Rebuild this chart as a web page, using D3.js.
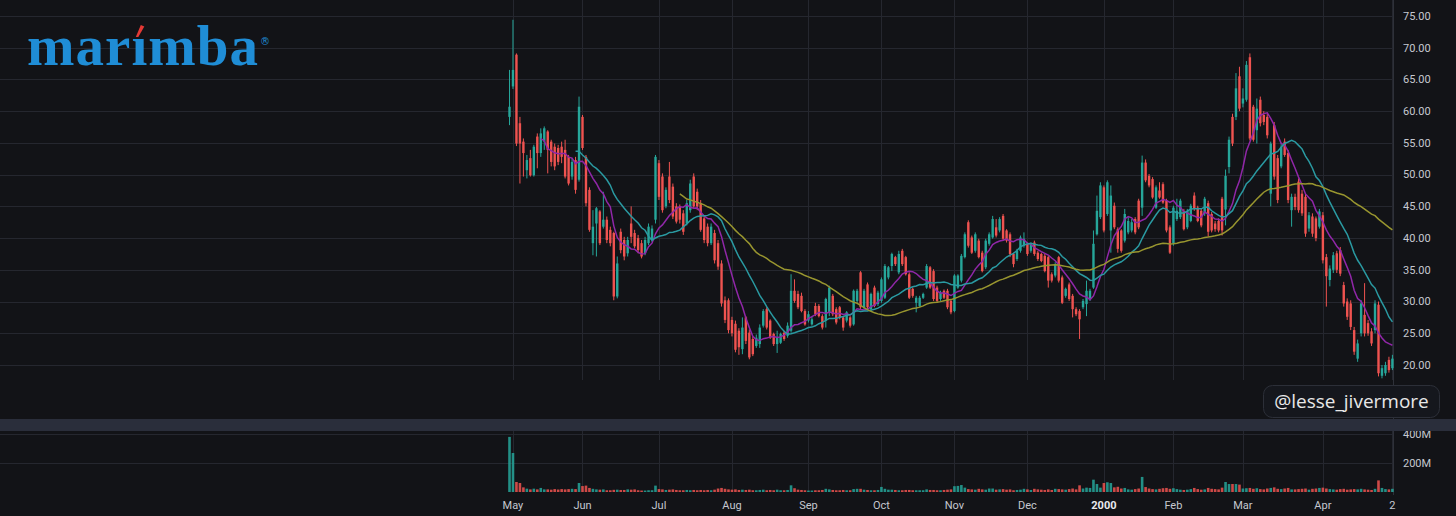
<!DOCTYPE html>
<html>
<head>
<meta charset="utf-8">
<script src="https://cdnjs.cloudflare.com/ajax/libs/d3/7.8.5/d3.min.js"></script>
<style>
	html, body { margin: 0; padding: 0; background: #121317; overflow: hidden; }
	svg { display: block; }
	.axis-label { font-family: Roboto, "Open Sans", sans-serif; font-size: 11px; fill: #c5c8d0; }
</style>
</head>
<body>
<div id="chart"></div>
<script>
// daily bars, MRBA, 30 Apr 1999 .. 2 May 2000
var opens = [
	59.1,63.9,68.9,58.1,55.2,50.7,52.6,49.9,56.0,53.4, 55.2,56.8,55.2,54.4,54.2,54.4,53.9,52.8,49.7,52.3,
	49.2,59.1,52.8,47.6,39.2,42.3,44.2,41.8,42.9,41.3, 40.8,30.8,41.0,39.7,37.6,42.3,40.8,40.0,39.2,37.6,
	39.2,39.7,42.9,51.8,49.7,45.0,49.7,48.1,45.0,45.0, 43.9,42.3,44.4,49.7,47.3,45.5,43.1,41.8,39.2,40.8,
	39.2,36.0,30.2,30.2,27.1,26.5,25.4,22.5,27.5,25.1, 24.1,23.0,23.3,26.2,28.8,27.0,24.9,23.3,23.5,25.1,
	24.6,25.4,31.7,31.2,30.9,28.5,27.0,26.4,29.3,29.3, 27.7,27.0,28.3,30.9,28.8,29.1,27.5,27.0,27.5,26.4,
	30.1,34.6,29.1,32.7,28.8,32.2,29.6,30.1,30.6,33.8, 35.6,37.0,34.6,38.0,37.0,34.3,32.0,29.8,29.3,30.6,
	32.2,35.4,34.8,32.2,30.4,31.7,31.7,30.1,28.5,32.2, 33.3,37.0,42.5,40.1,38.0,39.6,37.7,35.4,39.1,40.1,
	41.7,41.2,43.5,41.2,40.6,37.5,36.7,38.0,38.8,39.1, 38.0,39.3,37.7,37.5,37.2,37.0,34.3,34.1,37.0,33.8,
	30.9,32.7,30.9,28.8,28.5,29.1,29.6,30.4,32.2,40.6, 43.3,48.0,43.8,41.2,45.1,41.4,41.2,39.6,40.9,41.2,
	43.0,45.9,44.8,51.9,49.8,49.3,44.8,47.5,48.5,45.9, 41.7,39.1,43.0,43.3,44.3,41.7,42.7,46.7,44.8,44.3,
	43.9,45.5,43.8,42.3,42.7,46.2,44.5,51.2,59.1,59.1, 65.5,61.2,61.8,68.5,60.7,57.0,61.8,59.4,59.1,47.0,
	57.8,52.6,51.3,55.2,53.4,44.4,46.5,48.9,47.0,46.5, 41.5,43.4,43.1,41.8,43.6,37.0,33.4,35.0,37.6,38.1,
	32.6,30.0,29.7,25.5,21.0,25.0,27.9,26.6,25.3,25.5, 29.5,18.3,18.7,20.8,19.5
];
var highs = [
	66.5,74.4,69.1,59.1,55.7,53.1,53.9,54.7,56.5,57.3, 57.6,57.0,55.5,54.9,54.7,55.2,55.5,53.1,52.6,52.8,
	62.3,59.4,53.1,48.0,44.4,44.9,44.4,47.3,43.4,41.8, 41.0,37.1,41.5,40.2,40.2,45.0,41.3,40.5,39.7,40.2,
	42.3,42.0,53.1,52.3,50.2,48.0,52.0,48.6,45.5,45.3, 44.4,46.0,49.2,50.2,47.8,46.0,43.6,42.3,42.3,41.3,
	39.7,36.5,30.8,30.5,27.6,27.0,25.8,27.5,27.7,25.6, 24.5,24.8,26.4,28.8,29.1,27.2,25.1,25.4,25.1,25.4,
	26.7,34.3,33.5,31.7,31.4,28.8,28.5,27.7,29.8,29.6, 28.0,30.6,32.5,31.2,29.1,29.3,27.7,28.5,27.7,31.9,
	32.0,34.8,32.0,33.0,31.4,32.5,31.7,33.8,35.9,35.6, 37.7,37.2,38.0,38.3,37.2,34.6,32.2,30.9,30.9,31.4,
	35.9,35.6,35.1,32.5,31.7,31.9,32.0,30.4,34.3,34.3, 37.5,40.9,42.8,40.4,40.9,39.9,38.0,39.9,40.9,43.5,
	43.0,43.3,43.8,41.4,40.9,37.7,38.3,40.4,40.9,39.3, 39.3,39.6,38.0,37.7,37.5,37.2,34.6,36.2,37.2,34.1,
	32.2,33.0,31.2,29.1,28.8,30.4,33.3,32.0,41.2,46.7, 48.8,48.3,49.1,48.3,45.6,41.7,41.4,44.6,43.3,43.0,
	43.3,46.2,53.0,52.4,50.1,49.6,48.3,48.8,48.8,46.2, 42.0,45.1,46.2,46.2,44.6,44.6,45.4,47.2,45.1,44.6,
	46.5,45.9,44.1,42.7,43.1,46.5,50.8,56.0,59.6,66.0, 67.0,63.6,67.9,69.1,61.0,62.0,62.3,60.0,59.6,55.2,
	58.3,53.1,55.0,55.7,53.9,47.0,47.0,49.4,47.6,47.0, 44.1,43.9,43.4,44.6,44.1,37.5,35.7,37.8,38.0,38.6,
	33.1,30.5,30.2,26.0,24.0,30.2,32.9,27.1,25.8,30.2, 30.0,20.0,20.5,21.3,21.6
];
var lows = [
	57.8,63.5,54.5,48.6,49.7,49.4,49.7,49.7,51.0,52.8, 53.9,50.2,51.3,50.7,51.5,51.8,49.4,48.3,49.2,47.0,
	48.9,53.9,45.0,41.0,37.3,37.1,38.9,41.5,39.2,38.7, 30.2,30.5,37.6,36.5,37.1,39.2,38.4,37.6,36.8,37.3,
	38.9,39.4,42.3,46.0,44.0,44.7,45.5,43.0,42.3,42.3, 40.5,42.0,44.0,44.7,44.4,41.0,39.2,38.7,38.9,36.0,
	35.0,29.2,26.6,25.0,24.5,22.0,21.6,21.7,23.3,20.9, 21.4,22.7,22.7,25.9,25.6,24.1,23.0,21.9,23.3,23.8,
	24.3,25.1,29.8,28.8,28.3,26.2,26.7,26.2,27.7,27.5, 25.6,25.9,27.7,27.7,26.4,27.2,25.4,26.7,25.9,26.2,
	29.8,28.8,28.8,28.8,28.5,29.1,29.3,29.8,30.4,33.5, 34.8,35.6,34.3,35.6,34.1,30.4,30.6,28.3,29.1,30.4,
	32.0,32.0,30.1,29.8,30.1,30.4,28.8,28.0,28.3,32.0, 33.0,36.8,38.5,37.5,37.7,36.8,34.6,35.1,38.8,39.9,
	40.1,40.9,39.6,39.3,37.0,35.4,36.4,37.7,38.5,37.2, 37.7,37.2,36.4,36.2,34.6,32.2,33.0,33.8,33.0,29.6,
	30.6,30.1,27.5,27.7,24.1,28.8,27.7,30.1,32.0,40.4, 43.0,40.9,43.5,37.7,41.4,37.7,37.7,39.3,40.6,40.9,
	40.6,41.4,43.5,48.8,48.0,46.2,44.6,46.2,45.4,40.9, 37.5,38.8,42.7,43.0,41.2,41.4,42.5,44.3,42.5,41.7,
	43.5,40.2,40.9,41.0,40.9,40.4,42.0,50.2,54.5,58.6, 60.0,60.6,61.5,55.4,55.2,54.9,57.6,57.8,55.7,45.0,
	49.2,45.5,51.0,52.8,45.5,41.8,44.4,44.0,43.5,40.2, 41.0,40.2,39.5,41.5,36.0,29.2,32.4,34.5,34.5,34.0,
	29.2,27.1,25.5,21.6,20.5,24.5,24.5,24.6,23.0,25.0, 18.2,17.9,18.3,18.8,19.2
];
var closes = [
	60.7,66.5,54.9,54.9,53.4,52.3,49.9,54.4,53.4,56.5, 57.3,53.9,52.0,51.3,52.0,52.8,49.7,48.6,52.0,47.6,
	60.7,54.2,45.5,41.3,41.8,44.7,39.2,42.9,39.7,39.2, 30.8,36.0,38.1,37.1,39.7,40.2,38.7,38.1,37.1,39.7,
	41.8,41.5,52.8,46.5,44.4,47.6,46.0,43.4,42.6,42.9, 41.0,45.5,48.6,45.0,45.0,41.3,39.7,39.2,41.8,36.5,
	35.5,29.7,27.1,25.5,25.0,22.4,22.8,25.9,23.8,21.2, 21.7,24.3,25.9,28.5,25.9,24.3,23.3,24.3,24.9,24.1,
	26.2,31.7,30.1,29.1,28.5,26.4,28.0,27.2,28.0,27.7, 25.9,30.4,32.2,28.0,26.7,27.5,25.9,28.3,26.2,31.7,
	31.7,29.1,31.7,29.1,31.2,29.3,31.4,33.5,35.6,35.4, 37.5,35.9,37.5,35.9,34.3,30.6,30.9,30.6,30.6,31.2,
	35.6,32.2,30.4,30.1,31.4,30.6,29.1,28.3,34.1,34.1, 37.2,40.6,38.8,37.7,40.6,37.0,34.8,39.6,40.6,43.0,
	40.4,43.0,39.9,39.6,37.5,35.9,38.0,40.1,39.9,37.5, 39.1,37.5,36.7,36.4,34.8,33.3,33.3,35.9,33.3,29.8,
	32.0,30.4,28.8,28.0,27.2,30.1,31.7,31.7,39.1,44.3, 48.3,41.2,48.8,46.7,41.7,38.3,38.0,43.8,42.7,42.5,
	40.9,41.7,51.9,49.1,48.3,46.4,48.0,46.4,45.6,41.2, 37.7,44.8,44.3,45.9,41.4,44.3,45.1,44.6,42.7,42.0,
	46.2,41.0,41.2,41.4,41.2,41.2,49.8,55.5,54.9,63.6, 60.4,62.0,67.3,55.7,55.5,60.4,58.1,58.3,56.2,54.9,
	49.7,46.0,54.4,53.1,46.0,46.5,44.9,44.4,43.9,40.7, 43.6,40.7,40.0,44.2,36.5,34.0,35.2,37.3,35.0,34.4,
	29.7,27.6,26.0,22.1,23.4,29.7,25.0,25.0,23.4,29.7, 18.7,19.5,20.0,19.2,21.0
];
// volume, millions of shares
var volumes = [
	380,269,69,62,32,23,18,23,18,28, 18,18,16,20,17,20,18,20,22,20,
	62,41,44,28,22,18,16,18,12,12, 15,16,14,14,18,16,18,12,10,10,
	12,12,44,20,18,14,16,18,14,12, 12,14,12,14,12,14,12,14,12,16,
	24,28,22,18,16,18,14,16,14,16, 12,12,14,16,12,14,12,16,12,12,
	14,46,26,16,14,12,10,10,12,12, 14,22,18,14,12,12,14,12,12,20,
	22,22,16,14,12,12,14,35,22,16, 16,14,12,12,14,14,12,12,12,12,
	18,14,14,12,12,14,16,18,40,42, 48,30,20,18,16,22,18,16,24,24,
	16,18,20,16,18,12,14,16,22,18, 14,22,18,16,14,18,14,22,20,18,
	16,20,24,18,46,24,30,28,85,55, 30,62,67,62,32,36,24,28,18,16,
	20,24,104,34,24,20,18,22,26,28, 22,26,20,16,14,16,20,28,20,16,
	18,28,22,20,18,30,69,55,55,55, 51,24,26,28,22,26,20,18,24,28,
	32,22,20,24,28,18,18,20,22,24, 16,22,24,28,30,24,20,18,16,20,
	22,16,18,20,18,22,18,16,14,22, 80,28,20,18,22
];

var monthTicks = [1, 21, 43, 64, 86, 107, 128, 149, 171, 191, 211, 234, 254];
var monthLabels = ['May', 'Jun', 'Jul', 'Aug', 'Sep', 'Oct', 'Nov', 'Dec', '2000', 'Feb', 'Mar', 'Apr', '2'];
var priceTicks = [20, 25, 30, 35, 40, 45, 50, 55, 60, 65, 70, 75];
var volumeTicks = [200, 400];
var maPeriods = [10, 20, 50];
var maColors = ['#9027a8', '#2a9aa2', '#98952f'];

var width = 1456;
var height = 516;
var plotRight = 1393;
var pricePaneBottom = 419;
var volTop = 431;

var svg = d3.select('#chart').append('svg')
	.attr('width', width)
	.attr('height', height);

svg.append('rect')
	.attr('width', width)
	.attr('height', height)
	.attr('fill', '#121317');

var xScale = d3.scaleLinear()
	.domain([0, closes.length - 1])
	.range([509.5, 1392.4]);
var yScale = d3.scaleLinear()
	.domain([20, 75])
	.range([365, 16]);
var vScale = d3.scaleLinear()
	.domain([0, 400])
	.range([492, 434]);

// grid
var grid = svg.append('g').attr('stroke', '#25272f').attr('stroke-width', 1);
grid.selectAll('.hgrid')
	.data(priceTicks)
	.enter().append('line')
	.attr('x1', 0).attr('x2', plotRight)
	.attr('y1', function (d) { return Math.round(yScale(d)) + 0.5; })
	.attr('y2', function (d) { return Math.round(yScale(d)) + 0.5; });
grid.selectAll('.vgrid')
	.data(monthTicks)
	.enter().append('line')
	.attr('x1', function (d) { return Math.round(xScale(d)) + 0.5; })
	.attr('x2', function (d) { return Math.round(xScale(d)) + 0.5; })
	.attr('y1', 0).attr('y2', 380);
grid.selectAll('.vgrid2')
	.data(monthTicks)
	.enter().append('line')
	.attr('x1', function (d) { return Math.round(xScale(d)) + 0.5; })
	.attr('x2', function (d) { return Math.round(xScale(d)) + 0.5; })
	.attr('y1', volTop).attr('y2', 492);
grid.selectAll('.vhgrid')
	.data(volumeTicks)
	.enter().append('line')
	.attr('x1', 0).attr('x2', plotRight)
	.attr('y1', function (d) { return Math.round(vScale(d)) + 0.5; })
	.attr('y2', function (d) { return Math.round(vScale(d)) + 0.5; });

// right price scale border
svg.append('line')
	.attr('x1', plotRight + 0.5).attr('x2', plotRight + 0.5)
	.attr('y1', 0).attr('y2', 495)
	.attr('stroke', '#2e3139');

// logo
var logo = svg.append('text')
	.attr('x', 27)
	.attr('y', 65)
	.attr('font-family', '"Liberation Serif", "DejaVu Serif", serif')
	.attr('font-size', 57)
	.attr('font-weight', 'bold')
	.attr('fill', '#1f8dd6')
	.attr('textLength', 231)
	.attr('lengthAdjust', 'spacing')
	.text('mar\u0131mba');
var iBox = logo.node().getExtentOfChar(3);
var ax = iBox.x + iBox.width / 2;
svg.append('path')
	.attr('d', 'M' + (ax - 3.5) + ',37 L' + (ax + 1.5) + ',25 L' + (ax + 5) + ',26.5 L' + (ax - 1) + ',37 Z')
	.attr('fill', '#e53935');
svg.append('text')
	.attr('x', 260)
	.attr('y', 45)
	.attr('font-family', '"DejaVu Sans", sans-serif')
	.attr('font-size', 10)
	.attr('fill', '#1f8dd6')
	.text('\u00ae');

// volume bars
var volG = svg.append('g');
volG.selectAll('.vol')
	.data(volumes)
	.enter().append('rect')
	.attr('class', 'vol')
	.attr('x', function (d, i) { return xScale(i) - 1.3; })
	.attr('width', 2.6)
	.attr('y', function (d) { return vScale(d); })
	.attr('height', function (d) { return vScale(0) - vScale(d); })
	.attr('fill', function (d, i) { return closes[i] >= opens[i] ? '#26a69a' : '#ef5350'; })
	.attr('opacity', 0.85);

// candles
var candleG = svg.append('g');
var idx = d3.range(closes.length);
candleG.selectAll('.wick')
	.data(idx)
	.enter().append('line')
	.attr('x1', function (i) { return xScale(i); })
	.attr('x2', function (i) { return xScale(i); })
	.attr('y1', function (i) { return yScale(highs[i]); })
	.attr('y2', function (i) { return yScale(lows[i]); })
	.attr('stroke', function (i) { return closes[i] >= opens[i] ? '#26a69a' : '#ef5350'; })
	.attr('stroke-width', 1);
candleG.selectAll('.body')
	.data(idx)
	.enter().append('rect')
	.attr('x', function (i) { return xScale(i) - 1.2; })
	.attr('width', 2.4)
	.attr('y', function (i) { return yScale(Math.max(opens[i], closes[i])); })
	.attr('height', function (i) { return Math.max(1, Math.abs(yScale(opens[i]) - yScale(closes[i]))); })
	.attr('fill', function (i) { return closes[i] >= opens[i] ? '#26a69a' : '#ef5350'; });

// simple moving averages of the closes
function sma(values, n) {
	return values.map(function (v, i) {
		return i < n - 1 ? null : d3.mean(values.slice(i - n + 1, i + 1));
	});
}
var line = d3.line()
	.defined(function (d) { return d != null; })
	.x(function (d, i) { return xScale(i); })
	.y(function (d) { return yScale(d); });
maPeriods.forEach(function (p, k) {
	svg.append('path')
		.datum(sma(closes, p))
		.attr('d', line)
		.attr('fill', 'none')
		.attr('stroke', maColors[k])
		.attr('stroke-width', 1.5);
});

// price labels
svg.selectAll('.plabel')
	.data(priceTicks)
	.enter().append('text')
	.attr('class', 'axis-label')
	.attr('x', 1403)
	.attr('y', function (d) { return yScale(d); })
	.attr('dy', '0.35em')
	.text(function (d) { return d.toFixed(2); });

svg.selectAll('.vlabel')
	.data(volumeTicks)
	.enter().append('text')
	.attr('class', 'axis-label')
	.attr('x', 1403)
	.attr('y', function (d) { return vScale(d); })
	.attr('dy', '0.35em')
	.text(function (d) { return d + 'M'; });

// pane separator
svg.append('rect')
	.attr('x', 0).attr('y', pricePaneBottom)
	.attr('width', width).attr('height', 12)
	.attr('fill', '#2a2e3b');

// time labels
svg.selectAll('.tlabel')
	.data(monthTicks)
	.enter().append('text')
	.attr('class', 'axis-label')
	.attr('x', function (d) { return xScale(d); })
	.attr('y', 505)
	.attr('dy', '0.35em')
	.attr('text-anchor', 'middle')
	.attr('font-weight', function (d, i) { return monthLabels[i] == '2000' ? 'bold' : null; })
	.style('fill', function (d, i) { return monthLabels[i] == '2000' ? '#e8eaee' : null; })
	.text(function (d, i) { return monthLabels[i]; });

// watermark tag
svg.append('rect')
	.attr('x', 1263.5).attr('y', 385.5)
	.attr('width', 176).attr('height', 32)
	.attr('rx', 9)
	.attr('fill', '#15171d')
	.attr('stroke', '#2c2f38');
svg.append('text')
	.attr('x', 1351.5)
	.attr('y', 401.5)
	.attr('dy', '0.35em')
	.attr('text-anchor', 'middle')
	.attr('font-family', '"Open Sans", "Noto Sans", sans-serif')
	.attr('font-size', 19)
	.attr('fill', '#e8e8e8')
	.text('@lesse_jivermore');
</script>
</body>
</html>
